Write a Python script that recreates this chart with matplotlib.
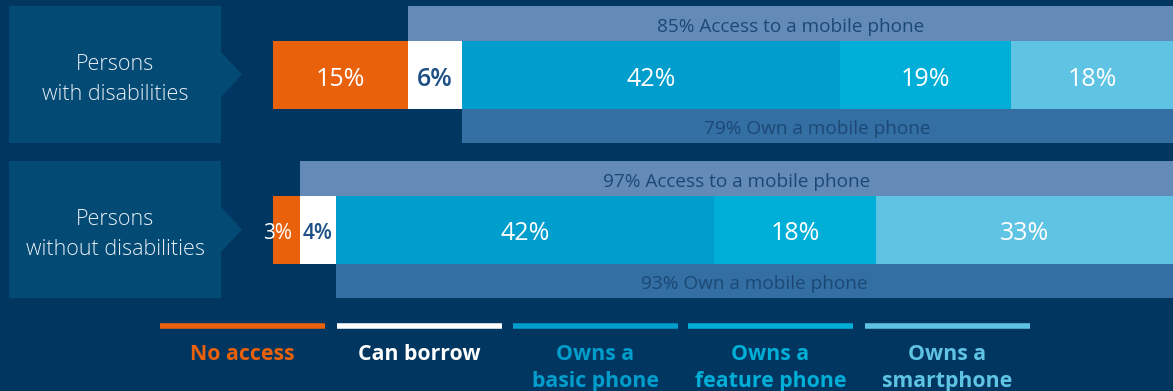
import matplotlib
matplotlib.use("Agg")
import matplotlib.pyplot as plt
from matplotlib.patches import Rectangle, Polygon

# ---- data -------------------------------------------------------------
groups = ["Persons\nwith disabilities", "Persons\nwithout disabilities"]
segments = ["No access", "Can borrow", "Owns a\nbasic phone",
            "Owns a\nfeature phone", "Owns a\nsmartphone"]
no_access = [15, 3]
can_borrow = [6, 4]
basic_phone = [42, 42]
feature_phone = [19, 18]
smartphone = [18, 33]
access_total = [85, 97]
own_total = [79, 93]

# ---- style ------------------------------------------------------------
BG = "#003660"
BOX = "#034a75"
seg_colors = ["#ea610c", "#ffffff", "#009ecd", "#00afd8", "#5fc3e4"]
val_text_colors = ["#ffffff", "#1b4f86", "#ffffff", "#ffffff", "#ffffff"]
ACCESS_C = "#648bb8"
OWN_C = "#336fa3"
BAND_TXT = "#1c4876"
FONT = "Open Sans"

W, H = 1173, 391
fig = plt.figure(figsize=(W / 100, H / 100), dpi=100, facecolor=BG)

# full-figure axes in pixel units for the group label boxes and legend
deco = fig.add_axes([0, 0, 1, 1])
deco.set_xlim(0, W)
deco.set_ylim(H, 0)
deco.axis("off")
deco.set_facecolor(BG)

# bar axes: x in percent (0-100), y in pixel rows
bx0, bx1 = 273, 1173
ax = fig.add_axes([bx0 / W, 0, (bx1 - bx0) / W, 1])
ax.set_xlim(0, 100)
ax.set_ylim(H, 0)
ax.axis("off")
ax.patch.set_alpha(0)

row_top = [6, 161]          # top of each group block
band_h, bar_h = 34.5, 68

series = [no_access, can_borrow, basic_phone, feature_phone, smartphone]

for i, grp in enumerate(groups):
    t = row_top[i]
    # access band above the bar
    acc_y = t + band_h / 2
    ax.barh(acc_y, access_total[i], left=100 - access_total[i], height=band_h,
            color=ACCESS_C, linewidth=0)
    ax.text(100 - access_total[i] / 2, acc_y + 8.5,
            f"{access_total[i]}% Access to a mobile phone",
            ha="center", va="baseline", fontsize=13.7, color=BAND_TXT, family=FONT)
    # ownership band below the bar
    own_y = t + band_h + bar_h + band_h / 2
    ax.barh(own_y, own_total[i], left=100 - own_total[i], height=band_h,
            color=OWN_C, linewidth=0)
    ax.text(100 - own_total[i] / 2, own_y + 8.5,
            f"{own_total[i]}% Own a mobile phone",
            ha="center", va="baseline", fontsize=13.7, color=BAND_TXT, family=FONT)
    # stacked segments
    bar_y = t + band_h + bar_h / 2
    left = 0
    for s, vals in enumerate(series):
        v = vals[i]
        ax.barh(bar_y, v, left=left, height=bar_h, color=seg_colors[s], linewidth=0)
        small = v < 5
        fs = 15 if small else 18
        if small and s == 0:
            # narrow first segment: label hangs out to the left
            tx, ha = left + v - 0.9, "right"
        else:
            tx, ha = left + v / 2, "center"
        ax.text(tx, bar_y + (9.5 if small else 11), f"{v}%", ha=ha, va="baseline",
                fontsize=fs, color=val_text_colors[s], family=FONT,
                fontweight="semibold" if s == 1 else "medium")
        left += v

    # group label box with pointer
    box_h = 2 * band_h + bar_h
    deco.add_patch(Rectangle((9, t), 212, box_h, facecolor=BOX, edgecolor="none"))
    cy = t + box_h / 2
    deco.add_patch(Polygon([(221, cy - 22.5), (242, cy), (221, cy + 22.5)],
                           closed=True, facecolor=BOX, edgecolor="none"))
    for k, line in enumerate(grp.split("\n")):
        deco.text(115, cy - 4.5 + 30 * k, line, ha="center", va="baseline",
                  fontsize=15.5, color="#e8eef5", family=FONT, fontweight="light")

# legend: coloured rule with label underneath
leg_x = [160, 337, 513, 688, 865]
leg_w = 165
for s, name in enumerate(segments):
    x0 = leg_x[s]
    deco.plot([x0, x0 + leg_w], [326, 326], color=seg_colors[s],
              linewidth=4, solid_capstyle="butt")
    for k, line in enumerate(name.split("\n")):
        deco.text(x0 + leg_w / 2, 359.5 + 27 * k, line, ha="center", va="baseline",
                  fontsize=15.3, color=seg_colors[s], family=FONT, fontweight="bold")

fig.savefig("out.png", dpi=100, facecolor=BG)
